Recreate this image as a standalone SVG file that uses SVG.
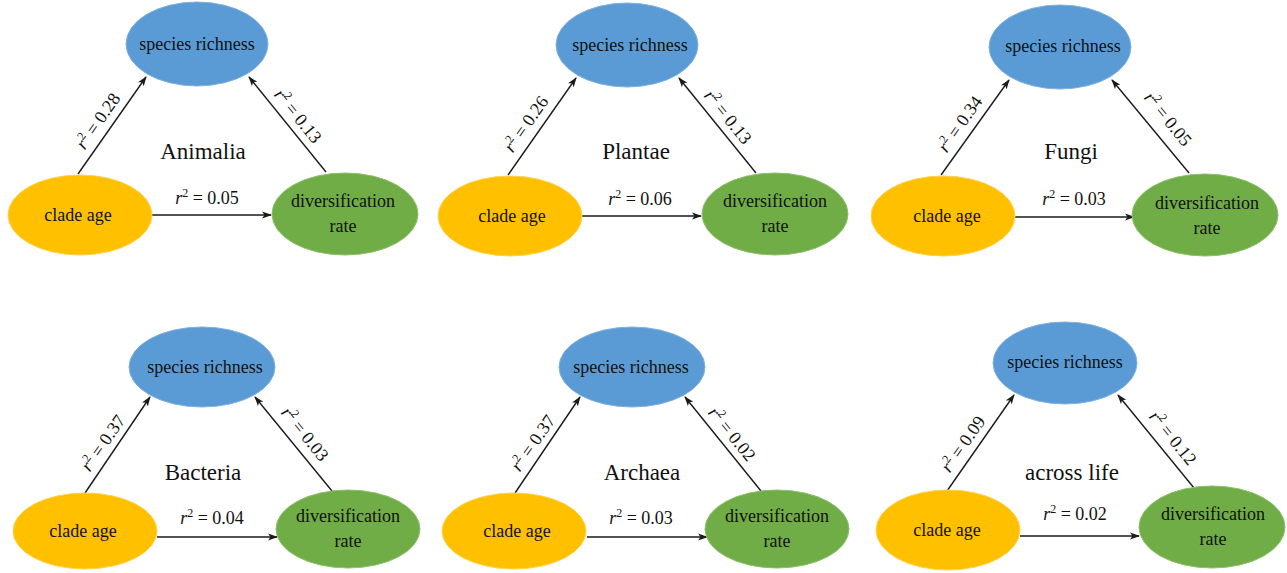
<svg xmlns="http://www.w3.org/2000/svg" width="1287" height="573" viewBox="0 0 1287 573">
<style>
.sr{fill:#5B9BD5;stroke:#7fb0de;stroke-width:1}
.ca{fill:#FFC000;stroke:#ffd24d;stroke-width:1}
.dr{fill:#70AD47;stroke:#8cc06a;stroke-width:1}
text{font-family:"Liberation Serif","Times New Roman",serif;fill:#111}
.nt{font-size:18px;text-anchor:middle}
.tt{font-size:23px;text-anchor:middle}
.lb{font-size:18px;text-anchor:middle}
.sup{font-size:12px}
.it{font-style:italic}
.ar{stroke:#1a1a1a;stroke-width:1.4;fill:none;marker-end:url(#ah)}
</style>
<defs>
<marker id="ah" markerUnits="userSpaceOnUse" markerWidth="10" markerHeight="8" refX="9" refY="4" orient="auto">
<path d="M0,0.5 L10,4 L0,7.5 L2.5,4 Z" fill="#1a1a1a"/>
</marker>
</defs>

<!-- Panel 1: Animalia -->
<g id="p-animalia">
<g id="animalia-connectors">
<line class="ar" x1="78" y1="174" x2="146" y2="77"/>
<line class="ar" x1="326" y1="172" x2="249" y2="77"/>
<line class="ar" x1="152" y1="215" x2="271" y2="215"/>
<text class="lb" transform="translate(98,121) rotate(-55)" y="6"><tspan class="it">r</tspan><tspan class="sup" dy="-7">2</tspan><tspan dy="7"> = 0.28</tspan></text>
<text class="lb" transform="translate(298,116) rotate(51)" y="6"><tspan class="it">r</tspan><tspan class="sup" dy="-7">2</tspan><tspan dy="7"> = 0.13</tspan></text>
<text class="lb" x="207" y="204"><tspan class="it">r</tspan><tspan class="sup" dy="-7">2</tspan><tspan dy="7"> = 0.05</tspan></text>
</g>
<g id="animalia-richness"><ellipse class="sr" cx="197" cy="44" rx="71" ry="42"/><text class="nt" x="197" y="50">species richness</text></g>
<g id="animalia-age"><ellipse class="ca" cx="80" cy="215" rx="72" ry="40"/><text class="nt" x="78" y="221">clade age</text></g>
<g id="animalia-div"><ellipse class="dr" cx="345" cy="214" rx="73" ry="41"/><text class="nt" x="343" y="207">diversification</text><text class="nt" x="343" y="232">rate</text></g>
<text id="animalia-title" class="tt" x="203" y="159">Animalia</text>
</g>

<!-- Panel 2: Plantae -->
<g id="p-plantae" transform="translate(430,1)">
<g id="plantae-connectors">
<line class="ar" x1="78" y1="174" x2="146" y2="77"/>
<line class="ar" x1="326" y1="172" x2="249" y2="77"/>
<line class="ar" x1="152" y1="215" x2="271" y2="215"/>
<text class="lb" transform="translate(96,123) rotate(-55)" y="6"><tspan class="it">r</tspan><tspan class="sup" dy="-7">2</tspan><tspan dy="7"> = 0.26</tspan></text>
<text class="lb" transform="translate(298,116) rotate(51)" y="6"><tspan class="it">r</tspan><tspan class="sup" dy="-7">2</tspan><tspan dy="7"> = 0.13</tspan></text>
<text class="lb" x="210" y="204"><tspan class="it">r</tspan><tspan class="sup" dy="-7">2</tspan><tspan dy="7"> = 0.06</tspan></text>
</g>
<g id="plantae-richness"><ellipse class="sr" cx="197" cy="44" rx="71" ry="42"/><text class="nt" x="200" y="50">species richness</text></g>
<g id="plantae-age"><ellipse class="ca" cx="80" cy="215" rx="72" ry="40"/><text class="nt" x="82" y="221">clade age</text></g>
<g id="plantae-div"><ellipse class="dr" cx="345" cy="213" rx="73" ry="41"/><text class="nt" x="345" y="206">diversification</text><text class="nt" x="345" y="231">rate</text></g>
<text id="plantae-title" class="tt" x="206" y="158">Plantae</text>
</g>

<!-- Panel 3: Fungi -->
<g id="p-fungi" transform="translate(863,2)">
<g id="fungi-connectors">
<line class="ar" x1="78" y1="173" x2="146" y2="78"/>
<line class="ar" x1="326" y1="171" x2="249" y2="78"/>
<line class="ar" x1="152" y1="215" x2="271" y2="215"/>
<text class="lb" transform="translate(97,122) rotate(-55)" y="6"><tspan class="it">r</tspan><tspan class="sup" dy="-7">2</tspan><tspan dy="7"> = 0.34</tspan></text>
<text class="lb" transform="translate(305,117) rotate(51)" y="6"><tspan class="it">r</tspan><tspan class="sup" dy="-7">2</tspan><tspan dy="7"> = 0.05</tspan></text>
<text class="lb" x="211" y="203"><tspan class="it">r</tspan><tspan class="sup" dy="-7">2</tspan><tspan dy="7"> = 0.03</tspan></text>
</g>
<g id="fungi-richness"><ellipse class="sr" cx="197" cy="45" rx="71" ry="42"/><text class="nt" x="200" y="50">species richness</text></g>
<g id="fungi-age"><ellipse class="ca" cx="80" cy="214" rx="72" ry="40"/><text class="nt" x="84" y="220">clade age</text></g>
<g id="fungi-div"><ellipse class="dr" cx="342" cy="213" rx="73" ry="41"/><text class="nt" x="344" y="207">diversification</text><text class="nt" x="344" y="232">rate</text></g>
<text id="fungi-title" class="tt" x="208" y="157">Fungi</text>
</g>

<!-- Panel 4: Bacteria -->
<g id="p-bacteria" transform="translate(5,319)">
<g id="bacteria-connectors">
<line class="ar" x1="80" y1="174" x2="145" y2="78"/>
<line class="ar" x1="327" y1="172" x2="250" y2="78"/>
<line class="ar" x1="152" y1="218" x2="272" y2="218"/>
<text class="lb" transform="translate(98,124) rotate(-55)" y="6"><tspan class="it">r</tspan><tspan class="sup" dy="-7">2</tspan><tspan dy="7"> = 0.37</tspan></text>
<text class="lb" transform="translate(300,115) rotate(51)" y="6"><tspan class="it">r</tspan><tspan class="sup" dy="-7">2</tspan><tspan dy="7"> = 0.03</tspan></text>
<text class="lb" x="207" y="205"><tspan class="it">r</tspan><tspan class="sup" dy="-7">2</tspan><tspan dy="7"> = 0.04</tspan></text>
</g>
<g id="bacteria-richness"><ellipse class="sr" cx="197" cy="48" rx="73" ry="40"/><text class="nt" x="200" y="69" dy="-15">species richness</text></g>
<g id="bacteria-age"><ellipse class="ca" cx="80" cy="212" rx="72" ry="38"/><text class="nt" x="78" y="218">clade age</text></g>
<g id="bacteria-div"><ellipse class="dr" cx="343" cy="210" rx="72" ry="39"/><text class="nt" x="343" y="203">diversification</text><text class="nt" x="343" y="228">rate</text></g>
<text id="bacteria-title" class="tt" x="198" y="161">Bacteria</text>
</g>

<!-- Panel 5: Archaea -->
<g id="p-archaea" transform="translate(435,319)">
<g id="archaea-connectors">
<line class="ar" x1="80" y1="174" x2="145" y2="78"/>
<line class="ar" x1="326" y1="172" x2="250" y2="78"/>
<line class="ar" x1="152" y1="218" x2="272" y2="218"/>
<text class="lb" transform="translate(98,124) rotate(-55)" y="6"><tspan class="it">r</tspan><tspan class="sup" dy="-7">2</tspan><tspan dy="7"> = 0.37</tspan></text>
<text class="lb" transform="translate(297,115) rotate(51)" y="6"><tspan class="it">r</tspan><tspan class="sup" dy="-7">2</tspan><tspan dy="7"> = 0.02</tspan></text>
<text class="lb" x="206" y="205"><tspan class="it">r</tspan><tspan class="sup" dy="-7">2</tspan><tspan dy="7"> = 0.03</tspan></text>
</g>
<g id="archaea-richness"><ellipse class="sr" cx="197" cy="48" rx="73" ry="40"/><text class="nt" x="196" y="54">species richness</text></g>
<g id="archaea-age"><ellipse class="ca" cx="79" cy="212" rx="72" ry="38"/><text class="nt" x="82" y="218">clade age</text></g>
<g id="archaea-div"><ellipse class="dr" cx="342" cy="210" rx="72" ry="39"/><text class="nt" x="342" y="203">diversification</text><text class="nt" x="342" y="228">rate</text></g>
<text id="archaea-title" class="tt" x="207" y="161">Archaea</text>
</g>

<!-- Panel 6: across life -->
<g id="p-across" transform="translate(868,317)">
<g id="across-connectors">
<line class="ar" x1="79" y1="174" x2="146" y2="78"/>
<line class="ar" x1="326" y1="171" x2="250" y2="78"/>
<line class="ar" x1="152" y1="219" x2="271" y2="219"/>
<text class="lb" transform="translate(95,127) rotate(-55)" y="6"><tspan class="it">r</tspan><tspan class="sup" dy="-7">2</tspan><tspan dy="7"> = 0.09</tspan></text>
<text class="lb" transform="translate(305,121) rotate(51)" y="6"><tspan class="it">r</tspan><tspan class="sup" dy="-7">2</tspan><tspan dy="7"> = 0.12</tspan></text>
<text class="lb" x="207" y="203"><tspan class="it">r</tspan><tspan class="sup" dy="-7">2</tspan><tspan dy="7"> = 0.02</tspan></text>
</g>
<g id="across-richness"><ellipse class="sr" cx="197" cy="46" rx="72" ry="41"/><text class="nt" x="197" y="51">species richness</text></g>
<g id="across-age"><ellipse class="ca" cx="80" cy="213" rx="72" ry="40"/><text class="nt" x="79" y="219">clade age</text></g>
<g id="across-div"><ellipse class="dr" cx="344" cy="210" rx="73" ry="41"/><text class="nt" x="345" y="203">diversification</text><text class="nt" x="345" y="228">rate</text></g>
<text id="across-title" class="tt" x="204" y="163">across life</text>
</g>
</svg>
